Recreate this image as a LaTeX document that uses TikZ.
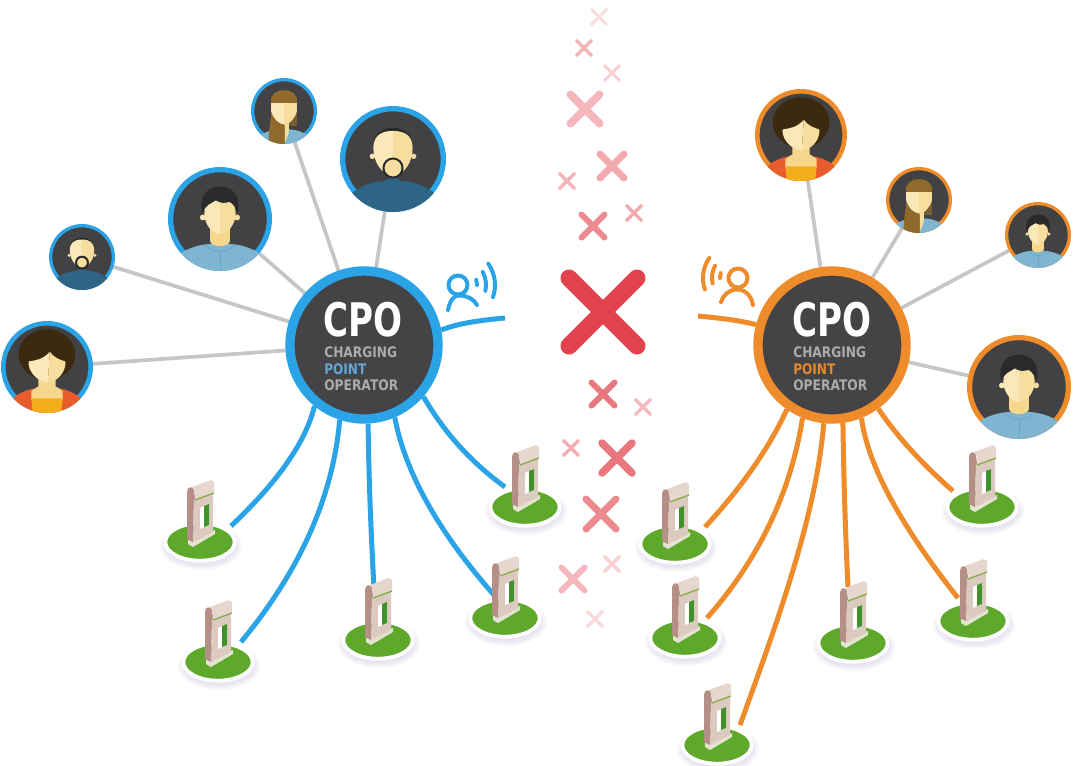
\documentclass[tikz,border=0pt]{standalone}
\usepackage{fontspec}
\setmainfont{DejaVu Sans}
\usetikzlibrary{backgrounds,shapes.geometric}
\definecolor{cpoblue}{HTML}{2AA4E6}
\definecolor{cpoorange}{HTML}{EE8B2A}
\definecolor{linkgrey}{HTML}{C6C6C6}
\definecolor{hubdark}{HTML}{444345}
\definecolor{labelgrey}{HTML}{ABABAB}
\definecolor{pointblue}{HTML}{63A6D6}
\definecolor{pointorange}{HTML}{E58A2C}
\definecolor{avbg}{HTML}{424244}
\definecolor{skinL}{HTML}{FBE8B8}
\definecolor{skinR}{HTML}{F8DE9E}
\definecolor{neckskin}{HTML}{F5D88C}
\definecolor{shirtblue}{HTML}{80B5D2}
\definecolor{shirtdk}{HTML}{6EA6C6}
\definecolor{navyshirt}{HTML}{2E6485}
\definecolor{hairblack}{HTML}{2A2A2C}
\definecolor{hairbrown}{HTML}{3C2A10}
\definecolor{hairtan}{HTML}{8F6A2B}
\definecolor{jacketred}{HTML}{E95C2B}
\definecolor{topyellow}{HTML}{F4AE1C}
\definecolor{grass}{HTML}{5EA92C}
\definecolor{pilfront}{HTML}{DCCAC0}
\definecolor{pilcap}{HTML}{E6D6CE}
\definecolor{pilside}{HTML}{B58E85}
\definecolor{pilbase}{HTML}{E4E3D2}
\definecolor{pilgreen}{HTML}{86AE48}
\definecolor{pilwin}{HTML}{3F922C}
\definecolor{crossred}{HTML}{E1424B}
\definecolor{softshadow}{HTML}{CFCBE0}
\tikzset{
  hubnode/.style={circle,fill=hubdark,inner sep=0pt,minimum size=111pt,line width=7pt},
  personring/.style={circle,fill=avbg,inner sep=0pt},
  graylink/.style={linkgrey,line width=2.8pt},
  bluelink/.style={cpoblue,line width=3.75pt},
  orangelink/.style={cpoorange,line width=3.75pt},
  stationbase/.style={ellipse,fill=grass,draw=white,line width=2.8pt,inner sep=0pt,minimum width=52pt,minimum height=28pt},
  cpotext/.style={inner sep=0pt,anchor=north west},
  iconline/.style={line width=3pt,line cap=round},
  crossline/.style={line cap=round}
}
% --- avatars, in unit-circle coordinates (y runs downward)
\newcommand\headshape{%
  \fill[neckskin] (-.19,.1) rectangle (.19,.42);
  \fill[neckskin] (0,.42) ellipse[x radius=.19,y radius=.1];
  \fill[skinL] (-.33,-.03) circle[radius=.055];
  \fill[skinR] (.33,-.03) circle[radius=.055];
  \fill[skinL] (0,-.42) .. controls (-.22,-.42) and (-.3,-.3) .. (-.3,-.1) .. controls (-.3,.1) and (-.15,.29) .. (0,.29) -- cycle;
  \fill[skinR] (0,-.42) .. controls (.22,-.42) and (.3,-.3) .. (.3,-.1) .. controls (.3,.1) and (.15,.29) .. (0,.29) -- cycle;
}
\newcommand\drawman{%
  \fill[shirtblue] (-.9,.78) .. controls (-.65,.52) and (-.3,.47) .. (0,.47) .. controls (.3,.47) and (.65,.52) .. (.9,.78) -- (.9,1.1) -- (-.9,1.1) -- cycle;
  \draw[shirtdk,line width=.5pt] (-.27,.5) .. controls (-.2,.6) and (-.08,.62) .. (0,.62) .. controls (.08,.62) and (.2,.6) .. (.27,.5);
  \draw[shirtdk,line width=.5pt] (0,.62) -- (0,1);
  \headshape
  \fill[hairblack] (-.34,-.1) .. controls (-.42,-.5) and (-.2,-.62) .. (0,-.62) .. controls (.2,-.62) and (.42,-.5) .. (.34,-.1) .. controls (.3,-.22) and (.25,-.3) .. (.18,-.33) .. controls (.1,-.3) and (0,-.3) .. (-.08,-.36) .. controls (-.15,-.3) and (-.3,-.28) .. cycle;
}
\newcommand\drawbeard{%
  \fill[hairblack] (0,-.3) ellipse[x radius=.36,y radius=.29];
  \fill[navyshirt] (-.95,.8) .. controls (-.65,.48) and (-.35,.42) .. (-.16,.42) .. controls (-.1,.33) and (.1,.33) .. (.16,.42) .. controls (.35,.42) and (.65,.48) .. (.95,.8) -- (.95,1.1) -- (-.95,1.1) -- cycle;
  \fill[skinL] (-.39,-.05) circle[radius=.05];
  \fill[skinR] (.39,-.05) circle[radius=.05];
  \fill[skinL] (0,-.53) .. controls (-.25,-.53) and (-.37,-.42) .. (-.37,-.2) .. controls (-.37,.05) and (-.22,.3) .. (0,.3) -- cycle;
  \fill[skinR] (0,-.53) .. controls (.25,-.53) and (.37,-.42) .. (.37,-.2) .. controls (.37,.05) and (.22,.3) .. (0,.3) -- cycle;
  \fill[skinR,draw=hairblack,line width=1.5pt] (0,.17) circle[radius=.18];
}
\newcommand\drawcurly{%
  \fill[hairbrown] (0,-.27) ellipse[x radius=.62,y radius=.55];
  \fill[jacketred] (-.9,.85) .. controls (-.7,.58) and (-.45,.5) .. (-.25,.46) -- (.25,.46) .. controls (.45,.5) and (.7,.58) .. (.9,.85) -- (.9,1.1) -- (-.9,1.1) -- cycle;
  \fill[neckskin] (-.19,.2) -- (.19,.2) -- (.19,.42) -- (.34,.52) -- (.34,.72) -- (-.34,.72) -- (-.34,.52) -- (-.19,.42) -- cycle;
  \fill[topyellow] (-.34,.68) -- (.34,.68) -- (.3,1.1) -- (-.3,1.1) -- cycle;
  \fill[skinL] (.06,-.33) .. controls (-.1,-.15) and (-.25,-.15) .. (-.4,-.12) .. controls (-.42,.1) and (-.2,.33) .. (.02,.33) -- cycle;
  \fill[skinR] (.02,.33) .. controls (.22,.33) and (.42,.1) .. (.4,-.12) .. controls (.3,-.15) and (.15,-.2) .. (.06,-.33) -- cycle;
}
\newcommand\drawlong{%
  \fill[shirtblue] (-.85,.85) .. controls (-.6,.6) and (-.3,.55) .. (0,.55) .. controls (.3,.55) and (.6,.6) .. (.85,.85) -- (.85,1.1) -- (-.85,1.1) -- cycle;
  \fill[hairtan!70!avbg] (-.4,-.25) rectangle (.4,.45);
  \fill[neckskin] (-.14,.2) rectangle (.14,.6);
  \fill[skinL] (0,-.35) -- (-.39,-.35) -- (-.39,.0) .. controls (-.36,.2) and (-.15,.42) .. (0,.42) -- cycle;
  \fill[skinR] (0,-.35) -- (.39,-.35) -- (.39,.0) .. controls (.36,.2) and (.15,.42) .. (0,.42) -- cycle;
  \fill[hairtan] (-.4,-.25) .. controls (-.42,-.5) and (-.25,-.63) .. (0,-.63) .. controls (.25,-.63) and (.42,-.5) .. (.4,-.25) -- cycle;
  \fill[hairtan] (-.38,.05) .. controls (-.34,.25) and (-.15,.4) .. (.03,.42) -- (.03,1.1) -- (-.45,1.1) .. controls (-.5,.8) and (-.42,.4) .. cycle;
  \fill[skinR] (.03,.42) -- (.14,.42) -- (.14,.68) -- (.03,.95) -- cycle;
}
\newcommand\personnode[6]{%
  \node[personring,draw=#5,minimum size=#4*1.425pt,line width=#4*0.075pt] (#1) at (#2,#3) {};
  \begin{scope}[shift={(#2,#3)},scale=#4]\clip (0,0) circle[radius=1]; #6\end{scope}%
}
\newcommand\stationat[3]{%
  \begin{scope}[shift={(#2,#3)}]
    \foreach \e in {0,2,4,6}{\fill[softshadow,opacity=.16] (1,4) ellipse[x radius=35+\e,y radius=19+\e*.8];}
  \end{scope}
  \node[stationbase] (#1) at (#2,#3) {};
  \begin{scope}[shift={(#2,#3)}]
    \fill[pilbase] (-12,-2) -- (15,-12) -- (15,-8) -- (-7,5) -- (-12,2) -- cycle;
    \fill[pilside] (-13,-40) -- (-6,-43) -- (-7,0) -- (-13,-3) -- cycle;
    \fill[pilfront] (-6,-43) -- (13,-49) -- (13,-10) -- (-7,0) -- cycle;
    \fill[pilside] (-13,-50) .. controls (-13,-56) and (-7,-56) .. (-6,-52) -- (-5,-43) -- (-13,-40) -- cycle;
    \fill[pilcap] (-8,-55) -- (11,-62) -- (14,-60) -- (14,-49) -- (-5,-42) .. controls (-4,-46) and (-5,-52) .. (-8,-55) -- cycle;
    \draw[pilgreen,line width=1pt] (-5,-42) -- (14,-49);
    \fill[white] (0,-34) -- (9,-38) -- (9,-17) -- (0,-13) -- cycle;
    \fill[pilwin] (4,-36) -- (9,-38) -- (9,-17) -- (4,-15) -- cycle;
  \end{scope}%
}
\newcommand\hubtext[4]{% prefix, x, colour of POINT
  \node[cpotext,text=white] (#1cpo) at (#2,302) {\resizebox*{59.25pt}{26.25pt}{\bfseries CPO}};
  \node[cpotext,text=labelgrey] (#1l1) at (#2+1,346.5) {\resizebox*{54.75pt}{8.25pt}{\bfseries CHARGING}};
  \node[cpotext,text=#3] (#1l2) at (#2+1,363) {\resizebox*{31.5pt}{8.25pt}{\bfseries POINT}};
  \node[cpotext,text=labelgrey] (#1l3) at (#2+1,379) {\resizebox*{55.5pt}{8.25pt}{\bfseries OPERATOR}};
}
\begin{document}
\begin{tikzpicture}[x=.75pt,y=-.75pt]
\useasboundingbox (0,0) rectangle (1076,765);
% hubs
\node[hubnode,draw=cpoblue] (hubL) at (364,345) {};
\node[hubnode,draw=cpoorange] (hubR) at (832,345) {};
\hubtext{L}{323}{pointblue}{}
\hubtext{R}{792}{pointorange}{}
% avatars
\personnode{pL1}{47}{367}{46}{cpoblue}{\drawcurly}
\personnode{pL2}{82}{257}{33}{cpoblue}{\drawbeard}
\personnode{pL3}{220}{219}{52}{cpoblue}{\drawman}
\personnode{pL4}{284}{111}{33}{cpoblue}{\drawlong}
\personnode{pL5}{393}{159}{53}{cpoblue}{\drawbeard}
\personnode{pR1}{801}{135}{46}{cpoorange}{\drawcurly}
\personnode{pR2}{919}{200}{33}{cpoorange}{\drawlong}
\personnode{pR3}{1038}{235}{33}{cpoorange}{\drawman}
\personnode{pR4}{1019}{387}{52}{cpoorange}{\drawman}
% stations
\stationat{sL1}{200}{542}
\stationat{sL2}{218}{662}
\stationat{sL3}{378}{640}
\stationat{sL4}{505}{618}
\stationat{sL5}{525}{507}
\stationat{sR1}{675}{544}
\stationat{sR2}{685}{638}
\stationat{sR3}{717}{745}
\stationat{sR4}{853}{643}
\stationat{sR5}{973}{621}
\stationat{sR6}{982}{507}
% free ends of the radio links
\coordinate (radioL) at (505,318);
\coordinate (radioR) at (698,316);
% connectors behind everything
\begin{scope}[on background layer]
  \foreach \p in {pL1,pL2,pL3,pL4,pL5}{\draw[graylink] (\p) -- (hubL);}
  \foreach \p in {pR1,pR2,pR3,pR4}{\draw[graylink] (\p) -- (hubR);}
  \draw[bluelink] (hubL.231) .. controls (305.7,442) and (278,481.7) .. ([shift={(31,-16)}]sL1.center);
  \draw[bluelink] (hubL.252) .. controls (333,496.7) and (300,570.7) .. ([shift={(23,-20)}]sL2.center);
  \draw[bluelink] (hubL.273) .. controls (368.7,474) and (370.7,528) .. ([shift={(-4,-52)}]sL3.center);
  \draw[bluelink] (hubL.293) .. controls (405.3,472.3) and (437.7,531) .. ([shift={(-11,-23)}]sL4.center);
  \draw[bluelink] (hubL.319) .. controls (445,433.7) and (471.3,462.3) .. ([shift={(-20,-20)}]sL5.center);
  \draw[bluelink] (hubL.11) .. controls (458,323.3) and (480,320.3) .. (radioL);
  \draw[orangelink] (hubR.235) .. controls (769,448.3) and (741.7,487.3) .. ([shift={(30,-17)}]sR1.center);
  \draw[orangelink] (hubR.248) .. controls (791,491.3) and (759.7,558) .. ([shift={(22,-20)}]sR2.center);
  \draw[orangelink] (hubR.264) .. controls (816,514.3) and (780,615) .. ([shift={(23,-20)}]sR3.center);
  \draw[orangelink] (hubR.278) .. controls (843.7,477.7) and (845.3,532) .. ([shift={(-5,-56)}]sR4.center);
  \draw[orangelink] (hubR.292) .. controls (867.3,463.3) and (899.3,524) .. ([shift={(-15,-23)}]sR5.center);
  \draw[orangelink] (hubR.306) .. controls (899.7,440.3) and (926,467.3) .. ([shift={(-29,-16)}]sR6.center);
  \draw[orangelink] (hubR.165) .. controls (739.3,320.3) and (719.3,318) .. (radioR);
\end{scope}
% radio icons
\draw[cpoblue,iconline] (458,285) circle[radius=9.5];
\draw[cpoblue,iconline] (448,310) .. controls (450,300) and (454,295.5) .. (459,295.5) .. controls (467,295.5) and (474,299) .. (477,305);
\foreach \r/\a in {19/8,28/20,37/27}{\draw[cpoblue,iconline] ([shift={(-8-\a:\r)}]458,285) arc[start angle=-8-\a,end angle=-8+\a,radius=\r];}
\draw[cpoorange,iconline] (738,278) circle[radius=9.5];
\draw[cpoorange,iconline] (721,302) .. controls (723,295) and (729,289.5) .. (737,289.5) .. controls (745,289.5) and (751,295) .. (753,305);
\foreach \r/\a in {18/8,26/20,35/27}{\draw[cpoorange,iconline] ([shift={(188-\a:\r)}]738,278) arc[start angle=188-\a,end angle=188+\a,radius=\r];}
% crosses: x, y, half arm, line width px, red percent
\foreach \x/\y/\d/\w/\c in {
  599/17/7.5/3/18, 584/48/7.5/3.5/40, 612/73/7.5/3/25, 585/109/14.5/8/38,
  612/166/12/7/45, 567/181/7.5/3.5/40, 593/226/11.5/6/62, 634/213/7.5/3.5/45,
  603/394/11.5/6/72, 643/407/7.5/3.5/38, 571/448/7.5/3.5/42, 617/458/15/7.5/72,
  601/514/15/7/62, 612/564/7.5/3.5/25, 573/579/11.5/6/38, 595/619/7.5/3.5/20,
  603/312/34/17/100}{
  \draw[crossline,crossred!\c!white,line width=\w*.75pt] (\x-\d,\y-\d) -- (\x+\d,\y+\d) (\x-\d,\y+\d) -- (\x+\d,\y-\d);
}
\end{tikzpicture}
\end{document}
